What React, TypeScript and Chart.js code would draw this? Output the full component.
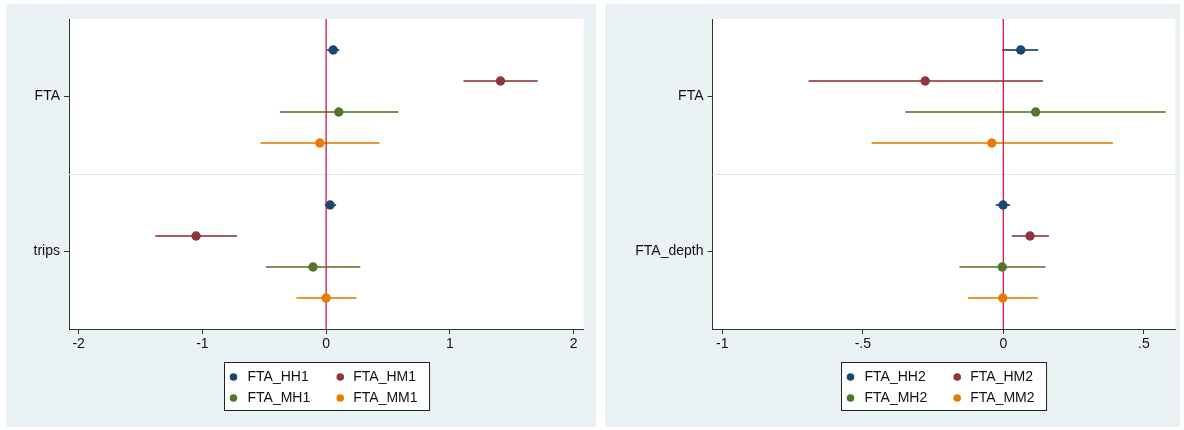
import React, { useEffect, useRef } from "react";
import { Chart, registerables } from "chart.js";

Chart.register(...registerables);

const FONT = "'Liberation Sans', Arial, Helvetica, sans-serif";

// Series colours (Stata s2color)
const seriesColors = ["#1a476f", "#90353b", "#55752f", "#e37e00"];
const ciColors = [
  "rgba(26,71,111,0.85)",
  "rgba(144,53,59,0.8)",
  "rgba(85,117,47,0.8)",
  "rgba(227,126,0,0.8)",
];

// ---- Left panel data ----
const leftCategories = ["FTA", "trips"];
const leftSeries = ["FTA_HH1", "FTA_HM1", "FTA_MH1", "FTA_MM1"];
// per series: [FTA, trips]
const leftHH1 = { coef: [0.057, 0.032], lo: [0.008, -0.011], hi: [0.107, 0.081] };
const leftHM1 = { coef: [1.409, -1.051], lo: [1.11, -1.38], hi: [1.71, -0.72] };
const leftMH1 = { coef: [0.102, -0.106], lo: [-0.374, -0.485], hi: [0.585, 0.276] };
const leftMM1 = { coef: [-0.051, 0.0], lo: [-0.531, -0.24], hi: [0.431, 0.244] };
const leftTicks = [-2, -1, 0, 1, 2];
const leftTickLabels = ["-2", "-1", "0", "1", "2"];

// ---- Right panel data ----
const rightCategories = ["FTA", "FTA_depth"];
const rightSeries = ["FTA_HH2", "FTA_HM2", "FTA_MH2", "FTA_MM2"];
// per series: [FTA, FTA_depth]
const rightHH2 = { coef: [0.062, -0.001], lo: [-0.004, -0.027], hi: [0.124, 0.024] };
const rightHM2 = { coef: [-0.278, 0.095], lo: [-0.693, 0.03], hi: [0.141, 0.162] };
const rightMH2 = { coef: [0.115, -0.004], lo: [-0.349, -0.156], hi: [0.578, 0.15] };
const rightMM2 = { coef: [-0.041, -0.002], lo: [-0.469, -0.126], hi: [0.39, 0.123] };
const rightTicks = [-1, -0.5, 0, 0.5];
const rightTickLabels = ["-1", "-.5", "0", ".5"];

type Est = { coef: number[]; lo: number[]; hi: number[] };

type PanelProps = {
  left: number;
  width: number;
  axisWidth: number;
  padRight: number;
  xMin: number;
  xMax: number;
  xTicks: number[];
  xTickLabels: string[];
  categories: string[];
  series: string[];
  ests: Est[];
};

const PANEL_TOP = 4;
const PANEL_H = 423;
const PLOT_TOP = 15;
const X_AXIS_H = 30;
const PLOT_BOTTOM = 325;

function Panel(p: PanelProps) {
  const ref = useRef<HTMLCanvasElement | null>(null);

  useEffect(() => {
    if (!ref.current) return;
    const nCat = p.categories.length;
    const slot = p.series.length + 1;
    const yMax = nCat * slot;

    const datasets = p.series.map((name, si) => ({
      label: name,
      data: p.categories.map((_, ci) => ({
        x: p.ests[si].coef[ci],
        y: ci * slot + si + 1,
        lo: p.ests[si].lo[ci],
        hi: p.ests[si].hi[ci],
      })),
      backgroundColor: seriesColors[si],
      borderColor: seriesColors[si],
      pointRadius: 4.7,
      pointBorderWidth: 0,
      pointHoverRadius: 4.7,
    }));

    const bgPlugin = {
      id: "plotbg",
      beforeDraw(chart: any) {
        const { ctx, chartArea: a } = chart;
        ctx.save();
        ctx.fillStyle = "#ffffff";
        ctx.fillRect(a.left, a.top, a.right - a.left, a.bottom - a.top);
        ctx.restore();
      },
      beforeDatasetsDraw(chart: any) {
        const { ctx, chartArea: a, scales } = chart;
        const xs = scales.x;
        const ys = scales.y;
        ctx.save();
        // separators between groups
        ctx.strokeStyle = "rgb(222,233,238)";
        ctx.lineWidth = 1;
        for (let ci = 1; ci < nCat; ci++) {
          const y = Math.round(ys.getPixelForValue(ci * slot)) + 0.5;
          ctx.beginPath();
          ctx.moveTo(a.left, y);
          ctx.lineTo(a.right, y);
          ctx.stroke();
        }
        // confidence intervals
        chart.data.datasets.forEach((ds: any, si: number) => {
          ctx.strokeStyle = ciColors[si];
          ctx.lineWidth = 2;
          ds.data.forEach((d: any) => {
            const y = ys.getPixelForValue(d.y);
            ctx.beginPath();
            ctx.moveTo(xs.getPixelForValue(d.lo), y);
            ctx.lineTo(xs.getPixelForValue(d.hi), y);
            ctx.stroke();
          });
        });
        // zero line
        const x0 = xs.getPixelForValue(0);
        ctx.strokeStyle = "#d7153f";
        ctx.lineWidth = 1.3;
        ctx.beginPath();
        ctx.moveTo(x0, a.top);
        ctx.lineTo(x0, a.bottom);
        ctx.stroke();
        ctx.restore();
      },
      afterDraw(chart: any) {
        const { ctx, chartArea: a } = chart;
        const dss = chart.data.datasets;
        ctx.save();
        ctx.font = `14px ${FONT}`;
        const w1 = Math.max(ctx.measureText(dss[0].label).width, ctx.measureText(dss[2].label).width);
        const w2 = Math.max(ctx.measureText(dss[1].label).width, ctx.measureText(dss[3].label).width);
        const boxW = 23 + w1 + 30 + 13 + w2 + 12;
        const boxH = 48;
        const cx = (a.left + a.right) / 2;
        const bx = Math.round(cx - boxW / 2) + 0.5;
        const by = 358.5;
        ctx.fillStyle = "#ffffff";
        ctx.fillRect(bx, by, boxW, boxH);
        ctx.strokeStyle = "#222222";
        ctx.lineWidth = 1;
        ctx.strokeRect(bx, by, boxW, boxH);
        const col2 = 23 + w1 + 30;
        const rows = [by + 14.5, by + 35.5];
        dss.forEach((ds: any, i: number) => {
          const col = i % 2;
          const row = Math.floor(i / 2);
          const dotX = bx + (col === 0 ? 9 : col2);
          const textX = bx + (col === 0 ? 23 : col2 + 13);
          const y = rows[row];
          ctx.fillStyle = seriesColors[i];
          ctx.beginPath();
          ctx.arc(dotX, y, 3.8, 0, Math.PI * 2);
          ctx.fill();
          ctx.fillStyle = "#111111";
          ctx.textAlign = "left";
          ctx.textBaseline = "middle";
          ctx.fillText(ds.label, textX, y + 0.5);
        });
        ctx.restore();
      },
    };

    const chart = new Chart(ref.current, {
      type: "scatter",
      data: { datasets: datasets as any },
      plugins: [bgPlugin],
      options: {
        animation: false,
        responsive: false,
        maintainAspectRatio: false,
        events: [],
        layout: {
          padding: {
            left: 0,
            top: PLOT_TOP,
            right: p.padRight,
            bottom: PANEL_H - PLOT_BOTTOM - X_AXIS_H,
          },
        },
        plugins: {
          legend: { display: false },
          tooltip: { enabled: false },
          title: { display: false },
        },
        scales: {
          x: {
            type: "linear",
            min: p.xMin,
            max: p.xMax,
            afterBuildTicks: (scale: any) => {
              scale.ticks = p.xTicks.map((v) => ({ value: v }));
            },
            afterFit: (scale: any) => {
              scale.height = X_AXIS_H;
            },
            ticks: {
              autoSkip: false,
              maxRotation: 0,
              padding: 2,
              color: "#111111",
              font: { family: FONT, size: 14 },
              callback: (_v: any, i: number) => p.xTickLabels[i],
            },
            grid: {
              display: true,
              drawOnChartArea: false,
              drawTicks: true,
              tickLength: 5,
              color: "#333333",
              lineWidth: 1,
            },
            border: { display: true, color: "#333333", width: 1 },
          },
          y: {
            type: "linear",
            min: 0,
            max: yMax,
            reverse: true,
            afterBuildTicks: (scale: any) => {
              scale.ticks = p.categories.map((_, ci) => ({ value: ci * slot + slot / 2 }));
            },
            afterFit: (scale: any) => {
              scale.width = p.axisWidth;
            },
            ticks: {
              autoSkip: false,
              padding: 4,
              color: "#111111",
              font: { family: FONT, size: 14 },
              callback: (_v: any, i: number) => p.categories[i],
            },
            grid: {
              display: true,
              drawOnChartArea: false,
              drawTicks: true,
              tickLength: 5,
              color: "#333333",
              lineWidth: 1,
            },
            border: { display: true, color: "#333333", width: 1 },
          },
        },
      } as any,
    });
    return () => chart.destroy();
  }, []);

  return (
    <div
      style={{
        position: "absolute",
        left: p.left,
        top: PANEL_TOP,
        width: p.width,
        height: PANEL_H,
        background: "#eaf2f3",
      }}
    >
      <canvas ref={ref} width={p.width} height={PANEL_H} style={{ display: "block" }} />
    </div>
  );
}

export default function App() {
  return (
    <div
      style={{
        position: "fixed",
        left: 0,
        top: 0,
        width: 1184,
        height: 430,
        background: "#ffffff",
        overflow: "hidden",
      }}
    >
      <Panel
        left={6}
        width={590}
        axisWidth={63}
        padRight={12.5}
        xMin={-2.078}
        xMax={2.08}
        xTicks={leftTicks}
        xTickLabels={leftTickLabels}
        categories={leftCategories}
        series={leftSeries}
        ests={[leftHH1, leftHM1, leftMH1, leftMM1]}
      />
      <Panel
        left={605}
        width={575}
        axisWidth={107.5}
        padRight={3.5}
        xMin={-1.035}
        xMax={0.612}
        xTicks={rightTicks}
        xTickLabels={rightTickLabels}
        categories={rightCategories}
        series={rightSeries}
        ests={[rightHH2, rightHM2, rightMH2, rightMM2]}
      />
    </div>
  );
}
